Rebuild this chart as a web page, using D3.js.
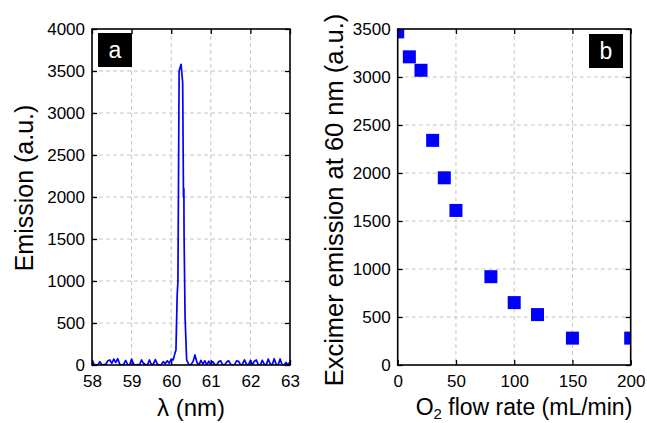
<!DOCTYPE html>
<html><head><meta charset="utf-8">
<script src="https://cdn.jsdelivr.net/npm/d3@7"></script>
<style>
body{margin:0;background:#fff;}
text{font-family:"Liberation Sans",Arial,sans-serif;fill:#000;}
</style></head>
<body>
<svg id="chart" width="647" height="423"></svg>
<script>
// ---- Panel a: emission spectrum ----
const wavelength = [
58.00,58.05,58.10,58.15,58.20,58.25,58.30,58.35,58.40,58.45,58.50,58.55,58.60,58.65,58.70,58.75,58.80,58.85,58.90,58.95,
59.00,59.05,59.10,59.15,59.20,59.25,59.30,59.35,59.40,59.45,59.50,59.55,59.60,59.65,59.70,59.75,59.80,59.85,59.90,59.95,
60.00,60.05,60.10,60.12,60.15,60.17,60.20,60.25,60.29,60.31,60.32,60.325,60.35,60.39,
60.45,60.50,60.55,60.60,60.65,60.70,60.75,60.80,60.85,60.90,60.95,61.00,61.05,61.10,61.15,61.20,61.25,61.30,61.35,61.40,
61.45,61.50,61.55,61.60,61.65,61.70,61.75,61.80,61.85,61.90,61.95,62.00,62.05,62.10,62.15,62.20,62.25,62.30,62.35,62.40,
62.45,62.50,62.55,62.60,62.65,62.70,62.75,62.80,62.85,62.90,62.95,63.00];
const emission = [
60,10,0,5,40,0,5,10,50,60,20,70,30,75,10,0,10,55,5,0,
70,10,0,5,0,60,20,5,0,60,5,10,65,10,0,5,40,15,50,20,
70,60,150,180,820,1000,3500,3580,3360,2000,2100,1550,575,60,
0,5,40,120,30,0,55,10,50,0,45,10,40,5,0,40,50,5,0,35,
50,10,0,5,50,45,0,10,60,10,0,55,5,45,60,5,0,55,10,0,
70,15,0,75,10,0,70,5,0,30,0,40];
const aXTicks = [58,59,60,61,62,63];
const aYTicks = [0,500,1000,1500,2000,2500,3000,3500,4000];

// ---- Panel b: excimer emission vs O2 flow ----
const flowRate = [0,10,20,30,40,50,80,100,120,150,200];
const excimer = [3470,3210,3070,2340,1950,1610,920,650,525,280,280];
const bXTicks = [0,50,100,150,200];
const bYTicks = [0,500,1000,1500,2000,2500,3000,3500];

const svg = d3.select("#chart");
const tickFont = 17;

function panel(opts){
  const {x0,x1,y0,y1,xDomain,yDomain,xTicks,yTicks,id,label,labelBox} = opts;
  const xs = d3.scaleLinear().domain(xDomain).range([x0,x1]);
  const ys = d3.scaleLinear().domain(yDomain).range([y1,y0]);
  const g = svg.append("g");
  svg.append("clipPath").attr("id",id).append("rect")
    .attr("x",x0).attr("y",y0).attr("width",x1-x0).attr("height",y1-y0);
  const grid = g.append("g").attr("stroke","#c4c4c4").attr("stroke-width",1).attr("stroke-dasharray","4,3");
  xTicks.slice(1,-1).forEach(t=>grid.append("line").attr("x1",xs(t)).attr("x2",xs(t)).attr("y1",y0).attr("y2",y1));
  yTicks.slice(1,-1).forEach(t=>grid.append("line").attr("y1",ys(t)).attr("y2",ys(t)).attr("x1",x0).attr("x2",x1));
  const axB = g.append("g").attr("transform",`translate(0,${y1})`)
    .call(d3.axisBottom(xs).tickValues(xTicks).tickSize(-5).tickPadding(10).tickFormat(d3.format("d")));
  const axT = g.append("g").attr("transform",`translate(0,${y0})`)
    .call(d3.axisTop(xs).tickValues(xTicks).tickSize(-5).tickFormat(""));
  const axL = g.append("g").attr("transform",`translate(${x0},0)`)
    .call(d3.axisLeft(ys).tickValues(yTicks).tickSize(-5).tickPadding(7).tickFormat(d3.format("d")));
  const axR = g.append("g").attr("transform",`translate(${x1},0)`)
    .call(d3.axisRight(ys).tickValues(yTicks).tickSize(-5).tickFormat(""));
  [axB,axT,axL,axR].forEach(a=>{
    a.selectAll(".domain").remove();
    a.selectAll(".tick line").attr("stroke","#000").attr("stroke-width",1.3);
    a.selectAll("text").attr("font-size",tickFont).attr("font-family","Liberation Sans, Arial, sans-serif").attr("fill","#000");
  });
  return {xs,ys,g,x0,x1,y0,y1,id,label,labelBox};
}

function finish(p){
  p.g.append("rect").attr("x",p.x0).attr("y",p.y0).attr("width",p.x1-p.x0).attr("height",p.y1-p.y0)
    .attr("fill","none").attr("stroke","#000").attr("stroke-width",1.6);
  const b = p.labelBox;
  p.g.append("rect").attr("x",b[0]).attr("y",b[1]).attr("width",34).attr("height",34).attr("fill","#000");
  p.g.append("text").attr("x",b[0]+17).attr("y",b[1]+25).attr("text-anchor","middle")
    .attr("font-size",23).style("fill","#fff").text(p.label);
}

// Panel a
const pa = panel({x0:92,x1:290,y0:29,y1:365,xDomain:[58,63],yDomain:[0,4000],
  xTicks:aXTicks,yTicks:aYTicks,id:"clipA",label:"a",labelBox:[98,33]});
const specData = wavelength.map((w,i)=>[w,emission[i]]);
pa.g.append("path").datum(specData).attr("clip-path","url(#clipA)")
  .attr("fill","none").attr("stroke","#0000ff").attr("stroke-width",1.7).attr("stroke-linejoin","round")
  .attr("d",d3.line().x(d=>pa.xs(d[0])).y(d=>pa.ys(d[1])));
finish(pa);

// Panel b
const pb = panel({x0:397.7,x1:630.7,y0:29,y1:365,xDomain:[0,200],yDomain:[0,3500],
  xTicks:bXTicks,yTicks:bYTicks,id:"clipB",label:"b",labelBox:[589,34]});
const sq = 13;
pb.g.append("g").attr("clip-path","url(#clipB)").selectAll("rect")
  .data(flowRate.map((f,i)=>[f,excimer[i]])).join("rect")
  .attr("x",d=>pb.xs(d[0])-sq/2).attr("y",d=>pb.ys(d[1])-sq/2)
  .attr("width",sq).attr("height",sq).attr("fill","#0000ff");
finish(pb);

// Axis titles
svg.append("text").attr("transform","translate(33,188) rotate(-90)").attr("text-anchor","middle")
  .attr("font-size",25).text("Emission (a.u.)");
svg.append("text").attr("x",191).attr("y",416).attr("text-anchor","middle")
  .attr("font-size",24).text("λ (nm)");
svg.append("text").attr("transform","translate(343,200) rotate(-90)").attr("text-anchor","middle")
  .attr("font-size",25.5).text("Excimer emission at 60 nm (a.u.)");
const xt = svg.append("text").attr("x",524).attr("y",415).attr("text-anchor","middle").attr("font-size",23);
xt.append("tspan").text("O");
xt.append("tspan").attr("font-size",15).attr("dy",4).text("2");
xt.append("tspan").attr("dy",-4).text(" flow rate (mL/min)");
</script>
</body></html>
